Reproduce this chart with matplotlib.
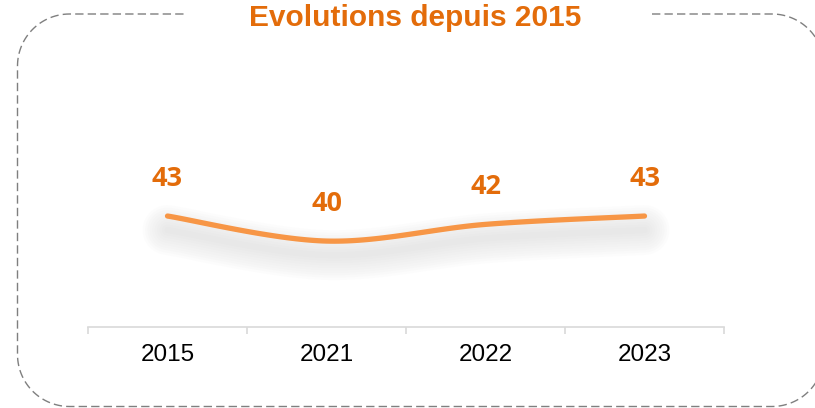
import numpy as np
import matplotlib.pyplot as plt
from matplotlib import transforms

# données
years = ['2015', '2021', '2022', '2023']
values = [43, 40, 42, 43]
title = 'Evolutions depuis 2015'

line_color = '#F79646'
label_color = '#E36C0A'

fig = plt.figure(figsize=(8.15, 4.08), dpi=100)

# cadre pointillé arrondi, dessiné en pixels sur un axe de fond
bg = fig.add_axes([0, 0, 1, 1], zorder=0)
bg.set_xlim(0, 815)
bg.set_ylim(408, 0)
bg.axis('off')
left, right, top, bottom, r = 17.5, 824, 14, 406.5, 52


def arc(cx, cy, a0, a1):
    a = np.radians(np.linspace(a0, a1, 30))
    return np.column_stack([cx + r * np.cos(a), cy + r * np.sin(a)])


path = np.vstack([
    [[652, top]],
    arc(right - r, top + r, -90, 0),
    arc(right - r, bottom - r, 0, 90),
    arc(left + r, bottom - r, 90, 180),
    arc(left + r, top + r, 180, 270),
    [[185, top]],
])
bg.plot(path[:, 0], path[:, 1], color='#7F7F7F', linewidth=1.0, linestyle=(0, (6, 3)))

fig.text(415 / 815, 1 - 18 / 408, title, ha='center', va='center', color=label_color,
         fontsize=21.5, fontweight='bold', family='Liberation Sans')

ax = fig.add_axes([88 / 815, 1 - 327 / 408, (724 - 88) / 815, (327 - 40) / 408])
ax.patch.set_visible(False)
ax.set_xlim(-0.5, len(years) - 0.5)
ax.set_ylim(29.7, 64.1)

# courbe lissée (Bezier façon Excel), calculée en coordonnées écran
x = np.arange(len(years))
pts = ax.transData.transform(np.column_stack([x, values]))
curve = []
for i in range(len(pts) - 1):
    p0 = pts[max(i - 1, 0)]
    p1 = pts[i]
    p2 = pts[i + 1]
    p3 = pts[min(i + 2, len(pts) - 1)]
    c1 = p1 + (p2 - p0) / 6
    c2 = p2 - (p3 - p1) / 6
    t = np.linspace(0, 1, 40)[:, None]
    seg = (1 - t) ** 3 * p1 + 3 * (1 - t) ** 2 * t * c1 + 3 * (1 - t) * t ** 2 * c2 + t ** 3 * p2
    curve.append(seg)
curve = ax.transData.inverted().transform(np.vstack(curve))

# ombre floue (peu de couches pour éviter l'arrondi 8 bits)
off = transforms.offset_copy(ax.transData, fig=fig, x=0, y=-14, units='dots')
for w in np.linspace(50, 6, 10):
    ax.plot(curve[:, 0], curve[:, 1], color='#909090', alpha=0.02,
            linewidth=w * 0.72, solid_capstyle='round', transform=off, zorder=1)

ax.plot(curve[:, 0], curve[:, 1], color=line_color, linewidth=3.8,
        solid_capstyle='round', zorder=3)

for xi, v in zip(x, values):
    ax.annotate(str(v), (xi, v), xytext=(0, 27), textcoords='offset points',
                ha='center', va='center', color=label_color, fontsize=19.5,
                fontweight='bold', family='Open Sans', zorder=4)

for s in ['top', 'right', 'left']:
    ax.spines[s].set_visible(False)
ax.spines['bottom'].set_color('#D9D9D9')
ax.spines['bottom'].set_linewidth(1.2)
ax.set_yticks([])
ax.set_xticks(x)
ax.set_xticklabels(years, family='Liberation Sans', fontsize=17.5, color='black')
ax.tick_params(axis='x', which='major', length=0, pad=12)
ax.set_xticks(np.arange(-0.5, len(years)), minor=True)
ax.tick_params(axis='x', which='minor', length=5, color='#D9D9D9', width=1.2)

fig.savefig('out.png', dpi=100)
